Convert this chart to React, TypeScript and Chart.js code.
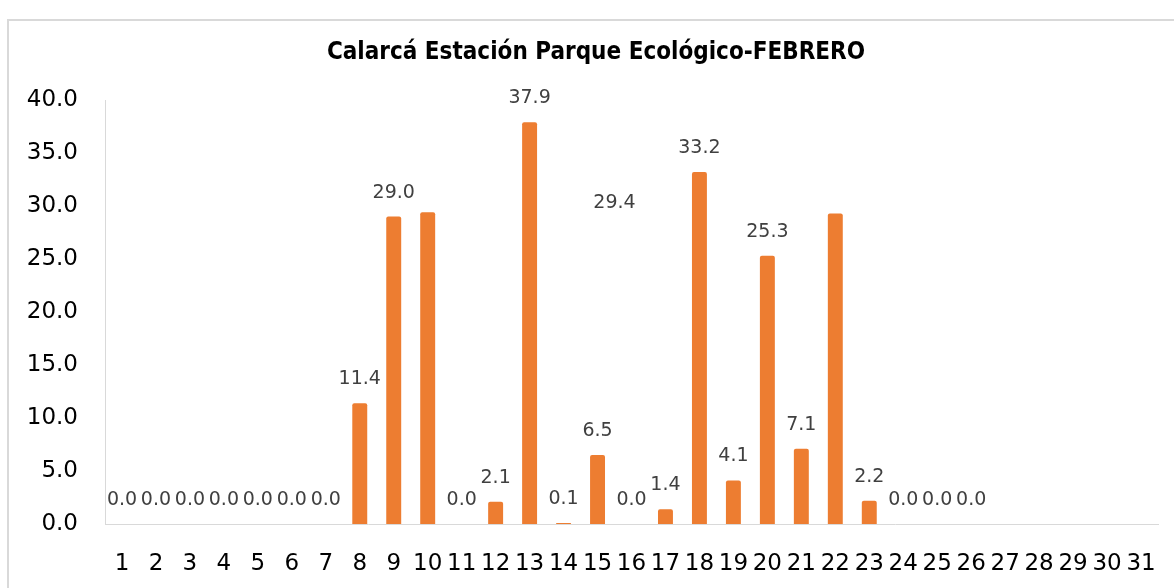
import React, { useEffect, useRef } from "react";
import { Chart, registerables } from "chart.js";

Chart.register(...registerables);

const TITLE = "Calarcá Estación Parque Ecológico-FEBRERO";

const days = [
  "1", "2", "3", "4", "5", "6", "7", "8", "9", "10",
  "11", "12", "13", "14", "15", "16", "17", "18", "19", "20",
  "21", "22", "23", "24", "25", "26", "27", "28", "29", "30", "31",
];

const rainfall: (number | null)[] = [
  0.0, 0.0, 0.0, 0.0, 0.0, 0.0, 0.0, 11.4, 29.0, 29.4,
  0.0, 2.1, 37.9, 0.1, 6.5, 0.0, 1.4, 33.2, 4.1, 25.3,
  7.1, 29.3, 2.2, 0.0, 0.0, 0.0, null, null, null, null, null,
];

// days whose value label is not shown next to its bar
const hiddenLabelDays = ["10", "22"];

// the value label of day 10 was dragged away from its bar in the original
const movedLabel = { text: "29.4", category: 14.5, value: 30.3 };

const yTicks = [0, 5, 10, 15, 20, 25, 30, 35, 40];

const BAR_COLOR = "#ED7D31";
const AXIS_COLOR = "#d9d9d9";
const LABEL_FONT = "19px 'DejaVu Sans', sans-serif";
const TITLE_FONT = "bold 24px 'DejaVu Sans Condensed', 'DejaVu Sans', sans-serif";

// title is centred on the whole (wider, cropped) chart object, not on the plot
const chartTitle = {
  id: "chartTitle",
  afterDraw(chart: any) {
    const ctx = chart.ctx;
    ctx.save();
    ctx.font = TITLE_FONT;
    ctx.fillStyle = "#000000";
    ctx.textAlign = "center";
    ctx.textBaseline = "middle";
    ctx.fillText(TITLE, 596, 53);
    ctx.restore();
  },
};

const valueLabels = {
  id: "valueLabels",
  afterDatasetsDraw(chart: any) {
    const ctx = chart.ctx;
    const meta = chart.getDatasetMeta(0);
    ctx.save();
    ctx.font = LABEL_FONT;
    ctx.fillStyle = "#404040";
    ctx.textAlign = "center";
    ctx.textBaseline = "middle";
    meta.data.forEach((bar: any, i: number) => {
      const v = rainfall[i];
      if (v === null || v === undefined) return;
      if (hiddenLabelDays.includes(days[i])) return;
      ctx.fillText(v.toFixed(1), bar.x, bar.y - 24);
    });
    const x = chart.scales.x.getPixelForValue(movedLabel.category);
    const y = chart.scales.y.getPixelForValue(movedLabel.value);
    ctx.fillText(movedLabel.text, x, y);
    ctx.restore();
  },
};

export default function App() {
  const ref = useRef<HTMLCanvasElement | null>(null);

  useEffect(() => {
    if (!ref.current) return;
    const chart = new Chart(ref.current, {
      type: "bar",
      data: {
        labels: days,
        datasets: [
          {
            data: rainfall,
            backgroundColor: BAR_COLOR,
            borderWidth: 0,
            borderRadius: 2,
            borderSkipped: "bottom",
            categoryPercentage: 1,
            barPercentage: 0.44,
          },
        ],
      },
      options: {
        responsive: false,
        animation: false,
        layout: { padding: { left: 0, right: 42, top: 100, bottom: 0 } },
        plugins: {
          legend: { display: false },
          tooltip: { enabled: false },
          title: { display: false },
        },
        scales: {
          x: {
            grid: { display: false, drawTicks: false },
            border: { display: true, color: AXIS_COLOR, width: 1 },
            ticks: {
              color: "#000000",
              font: { family: "'DejaVu Sans', sans-serif", size: 23 },
              padding: 26,
              autoSkip: false,
              maxRotation: 0,
              minRotation: 0,
            },
            afterFit(scale: any) {
              scale.height = 64;
            },
          },
          y: {
            min: 0,
            max: 40,
            grid: { display: false, drawTicks: false },
            border: { display: true, color: AXIS_COLOR, width: 1 },
            afterBuildTicks(scale: any) {
              scale.ticks = yTicks.map((v) => ({ value: v }));
            },
            ticks: {
              color: "#000000",
              font: { family: "'DejaVu Sans', sans-serif", size: 23 },
              padding: 27,
              callback: (v: any) => Number(v).toFixed(1),
            },
            afterFit(scale: any) {
              scale.width = 105;
            },
          },
        },
      },
      plugins: [valueLabels, chartTitle],
    });
    return () => chart.destroy();
  }, []);

  return (
    <div
      style={{
        position: "fixed",
        left: 0,
        top: 0,
        width: 1174,
        height: 588,
        overflow: "hidden",
        background: "#ffffff",
      }}
    >
      <div
        style={{
          position: "absolute",
          left: 7,
          top: 19,
          width: 1250,
          height: 650,
          border: "2px solid #d9d9d9",
          boxSizing: "border-box",
        }}
      />
      <canvas
        ref={ref}
        width={1200}
        height={588}
        style={{ position: "absolute", left: 0, top: 0, width: 1200, height: 588 }}
      />
    </div>
  );
}
